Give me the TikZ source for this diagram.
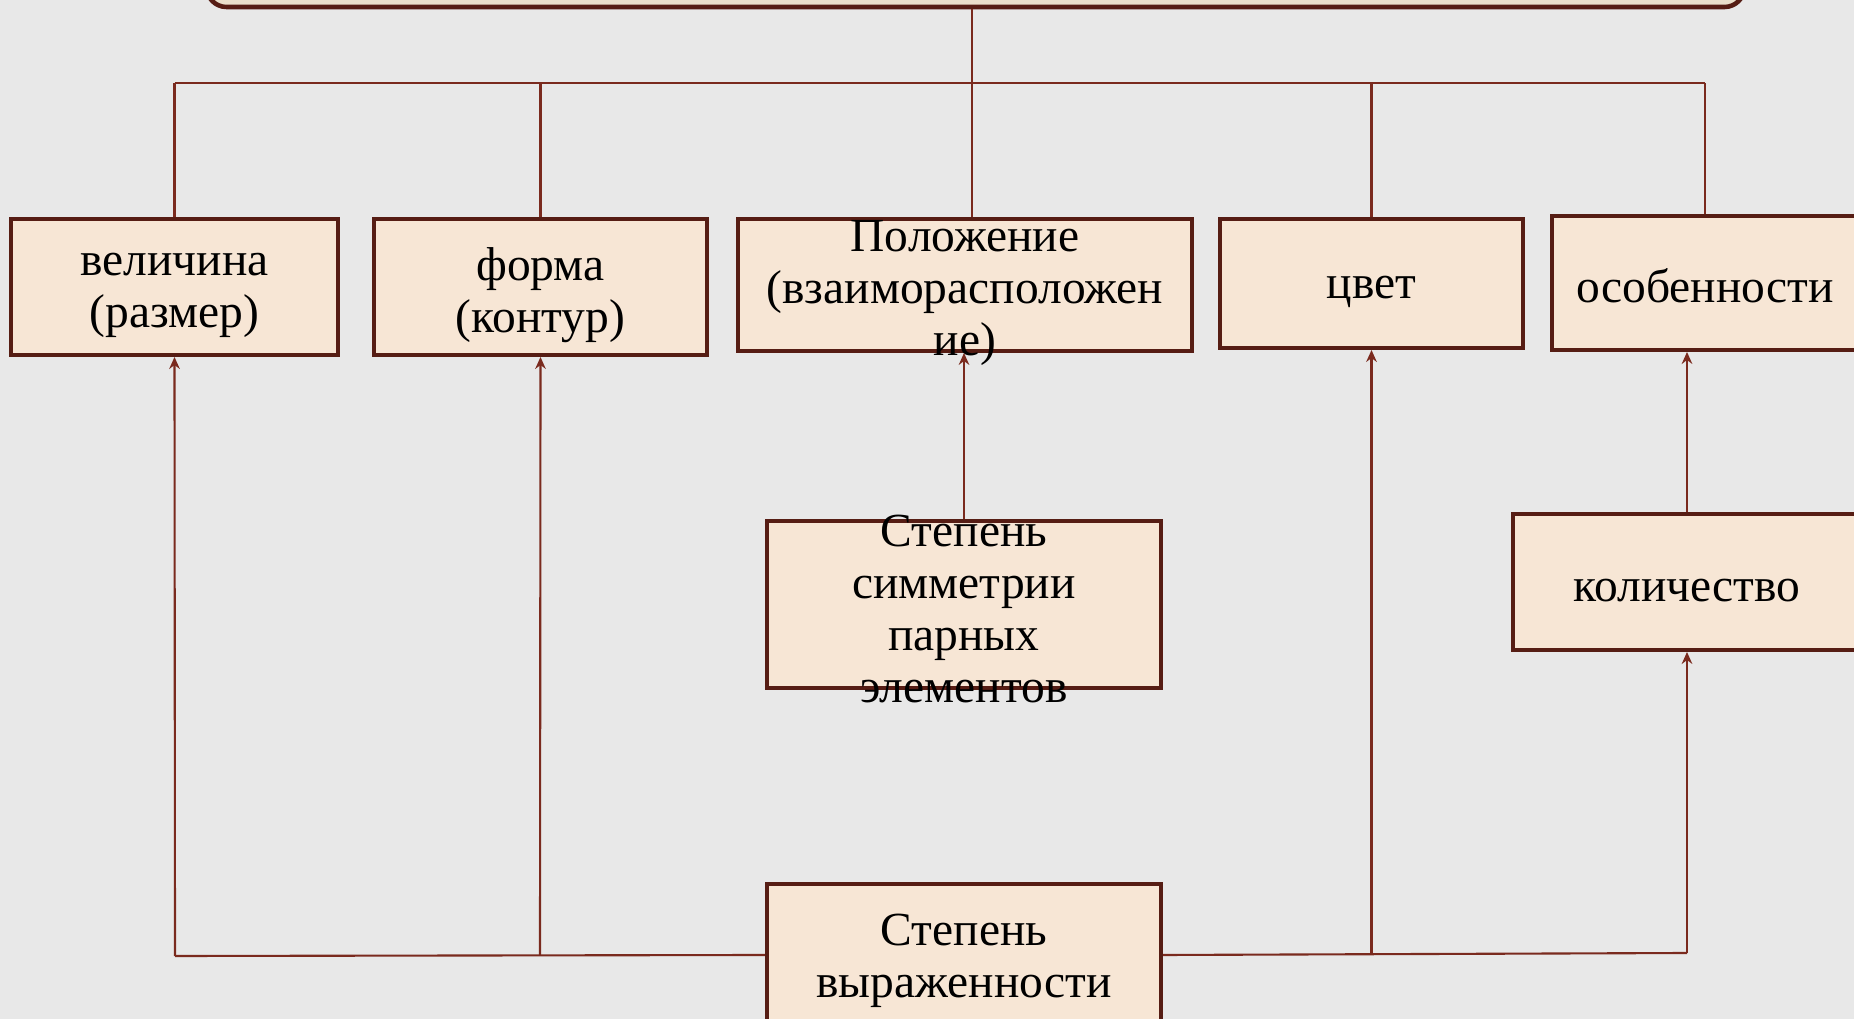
\documentclass[tikz,border=0pt]{standalone}
\usepackage{fontspec}
\setmainfont{Liberation Serif}
\usetikzlibrary{arrows.meta}
\definecolor{bgcol}{HTML}{E8E8E8}
\definecolor{boxfill}{HTML}{F7E6D5}
\definecolor{boxline}{HTML}{561D14}
\definecolor{linecol}{HTML}{7A2A1E}
\definecolor{topfill}{HTML}{EADFCB}
\begin{document}
\begin{tikzpicture}[x=0.01cm,y=-0.01cm,
	blk/.style={draw=boxline,line width=1.1pt,fill=boxfill,inner sep=0pt},
	txt/.style={align=center,inner sep=0pt,yshift=-2.4pt,font=\fontsize{13.5}{14.8}\selectfont},
	conn/.style={draw=linecol,line width=0.6pt},
	arr/.style={conn,-{Stealth[length=3.4pt,width=3pt]}}]
				\useasboundingbox (0,0) rectangle (1854,1019);
				\clip (0,0) rectangle (1854,1019);
				\fill[bgcol] (0,0) rectangle (1854,1019);
				\node[draw=boxline,line width=1.3pt,fill=topfill,rounded corners=0.2cm,minimum width=15.37cm,minimum height=0.67cm] (top) at (975.5,-26.5) {};
				\node[blk,minimum width=3.27cm,minimum height=1.36cm] (vel) at (174.5,287) {};
				\node[blk,minimum width=3.33cm,minimum height=1.36cm] (form) at (540.5,287) {};
				\node[blk,minimum width=4.54cm,minimum height=1.32cm] (pol) at (965,285) {};
				\node[blk,minimum width=3.03cm,minimum height=1.29cm] (cvet) at (1371.5,283.5) {};
				\node[blk,minimum width=3.06cm,minimum height=1.34cm] (osob) at (1705,283) {};
				\node[blk,minimum width=3.94cm,minimum height=1.67cm] (sym) at (964,604.5) {};
				\node[blk,minimum width=3.48cm,minimum height=1.36cm] (kol) at (1687,582) {};
				\node[blk,minimum width=3.94cm,minimum height=1.42cm] (expr) at (964,955) {};
				\node[txt] (veltxt) at (vel) {величина\\(размер)};
				\node[txt] (formtxt) at (form) {форма\\(контур)};
				\node[txt] (poltxt) at (pol) {Положение\\(взаиморасположен\\ие)};
				\node[txt] (cvettxt) at (cvet) {цвет};
				\node[txt,yshift=1.6pt] (osobtxt) at (osob) {особенности};
				\node[txt,yshift=1.2pt] (symtxt) at (sym) {Степень\\симметрии\\парных\\элементов};
				\node[txt] (koltxt) at (kol) {количество};
				\node[txt,yshift=0.7pt] (exprtxt) at (expr) {Степень\\выраженности};
				\coordinate (bus) at (972,83);
				\coordinate (bl) at (175,956);
				\coordinate (fb) at (540,955);
				\coordinate (br) at (1687,953);
				\draw[conn] (bus |- top.south) -- (bus);
				\draw[conn] (vel.north |- bus) -- (osob.north |- bus);
				\foreach \b in {vel,form,cvet,osob}
					\draw[conn] (\b.north |- bus) -- (\b.north);
				\draw[conn] (bus) -- (bus |- pol.north);
				\draw[conn] (expr.west) -- (bl);
				\draw[conn] (expr.east) -- (br);
				\draw[arr] (bl) -- (vel.south);
				\draw[arr] (fb) -- (form.south);
				\draw[arr] (cvet.south |- br) -- (cvet.south);
				\draw[arr] (br) -- (br |- kol.south);
				\draw[arr] (kol.north) -- (kol.north |- osob.south);
				\draw[arr] (sym.north) -- (sym.north |- pol.south);
			\end{tikzpicture}
\end{document}
